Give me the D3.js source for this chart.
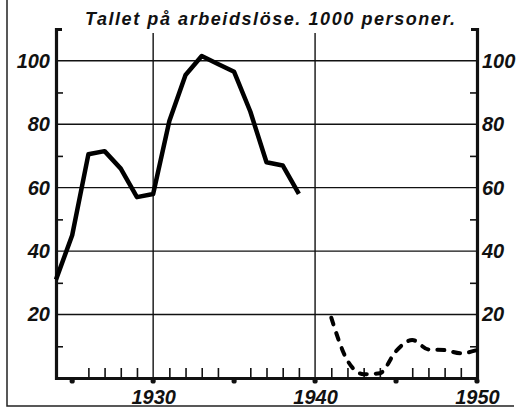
<!DOCTYPE html>
<html>
<head>
<meta charset="utf-8">
<script src="https://cdn.jsdelivr.net/npm/d3@7"></script>
<style>
  body { margin: 0; background: #fff; }
  svg { display: block; }
  .lbl { font-family: "Liberation Sans", Arial, sans-serif; font-weight: bold; font-style: italic; fill: #111; }
</style>
</head>
<body>
<svg></svg>
<script>
const W = 522, H = 411;

// arbeidslöse, 1000 personer
const years_pre = [1924, 1925, 1926, 1927, 1928, 1929, 1930, 1931, 1932, 1933, 1934, 1935, 1936, 1937, 1938, 1939];
const values_pre = [31, 45, 70.5, 71.5, 66, 57, 58, 81, 95.5, 101.5, 99, 96.5, 84, 68, 67, 58];
const years_post = [1941, 1942, 1943, 1944, 1945, 1946, 1947, 1948, 1949, 1950];
const values_post = [19, 5.5, 1.2, 1.5, 8.5, 12, 9, 8.8, 7.8, 8.8];

const y_labels = [20, 40, 60, 80, 100];
const y_minor = [10, 30, 50, 70, 90];
const x_labels = [1930, 1940, 1950];
const x_grid = [1930, 1940];
const x_dots = [1925, 1930, 1935, 1940, 1945, 1950];
const title = "Tallet på arbeidslöse. 1000 personer.";

const svg = d3.select("svg").attr("width", W).attr("height", H);

const x = d3.scaleLinear().domain([1924, 1950]).range([56, 477]);
const y = d3.scaleLinear().domain([0, 110]).range([378, 29]);

// frame (left + bottom)
svg.append("path")
    .attr("d", `M7,0 V406 H514`)
    .attr("fill", "none")
    .attr("stroke", "#222")
    .attr("stroke-width", 1.5);

// grid
svg.append("g").selectAll("line.h")
    .data(y_labels)
    .join("line")
    .attr("x1", x(1924)).attr("x2", x(1950))
    .attr("y1", d => y(d)).attr("y2", d => y(d))
    .attr("stroke", "#111").attr("stroke-width", 1.4);

svg.append("g").selectAll("line.v")
    .data(x_grid)
    .join("line")
    .attr("x1", d => x(d)).attr("x2", d => x(d))
    .attr("y1", 33).attr("y2", y(0))
    .attr("stroke", "#111").attr("stroke-width", 1.4);

// left axis
const ax_left = svg.append("g")
    .attr("transform", `translate(${x(1924)},0)`)
    .call(d3.axisLeft(y).tickValues(y_labels).tickSizeInner(0).tickSizeOuter(-6).tickPadding(6));
ax_left.select(".domain").attr("stroke", "#111").attr("stroke-width", 3.2);

svg.append("g")
    .attr("transform", `translate(${x(1924)},0)`)
    .call(d3.axisLeft(y).tickValues(y_minor).tickSize(-7).tickFormat(""))
    .call(g => g.select(".domain").remove())
    .selectAll("line").attr("stroke", "#111").attr("stroke-width", 1.6);

// right axis
const ax_right = svg.append("g")
    .attr("transform", `translate(${x(1950)},0)`)
    .call(d3.axisRight(y).tickValues(y_labels).tickSizeInner(0).tickSizeOuter(-6).tickPadding(5));
ax_right.select(".domain").attr("stroke", "#111").attr("stroke-width", 3.2);

svg.append("g")
    .attr("transform", `translate(${x(1950)},0)`)
    .call(d3.axisRight(y).tickValues(y_minor).tickSize(-7).tickFormat(""))
    .call(g => g.select(".domain").remove())
    .selectAll("line").attr("stroke", "#111").attr("stroke-width", 1.6);

[ax_left, ax_right].forEach(g => {
    g.selectAll("text")
        .attr("class", "lbl")
        .attr("font-size", 20)
        .attr("font-family", null)
        .attr("fill", null);
});

// bottom axis
const all_years = d3.range(1925, 1950).filter(d => d % 5 !== 0);
svg.append("g")
    .attr("transform", `translate(0,${y(0)})`)
    .call(d3.axisBottom(x).tickValues(all_years).tickSize(-10).tickFormat(""))
    .call(g => g.select(".domain").remove())
    .selectAll("line").attr("stroke", "#111").attr("stroke-width", 1.6);

const ax_bottom = svg.append("g")
    .attr("transform", `translate(0,${y(0)})`)
    .call(d3.axisBottom(x).tickValues(x_labels).tickFormat(d3.format("d")).tickSize(0).tickPadding(12));
ax_bottom.select(".domain").attr("stroke", "#111").attr("stroke-width", 3.2);
ax_bottom.selectAll("text")
    .attr("class", "lbl")
    .attr("font-size", 20)
    .attr("font-family", null)
    .attr("fill", null);

svg.append("g").selectAll("circle")
    .data(x_dots)
    .join("circle")
    .attr("cx", d => x(d))
    .attr("cy", y(0) + 3)
    .attr("r", 2.6)
    .attr("fill", "#111");

// title
svg.append("text")
    .attr("class", "lbl")
    .attr("x", 85)
    .attr("y", 25)
    .attr("font-size", 18)
    .attr("textLength", 370)
    .attr("lengthAdjust", "spacing")
    .text(title);

// lines
const line = d3.line().x(d => x(d[0])).y(d => y(d[1]));

svg.append("path")
    .datum(d3.zip(years_pre, values_pre))
    .attr("d", line)
    .attr("fill", "none")
    .attr("stroke", "#000")
    .attr("stroke-width", 4.5)
    .attr("stroke-linejoin", "round");

svg.append("path")
    .datum(d3.zip(years_post, values_post))
    .attr("d", line.curve(d3.curveMonotoneX))
    .attr("fill", "none")
    .attr("stroke", "#000")
    .attr("stroke-width", 4)
    .attr("stroke-linecap", "round")
    .attr("stroke-dasharray", "7,9");
</script>
</body>
</html>
